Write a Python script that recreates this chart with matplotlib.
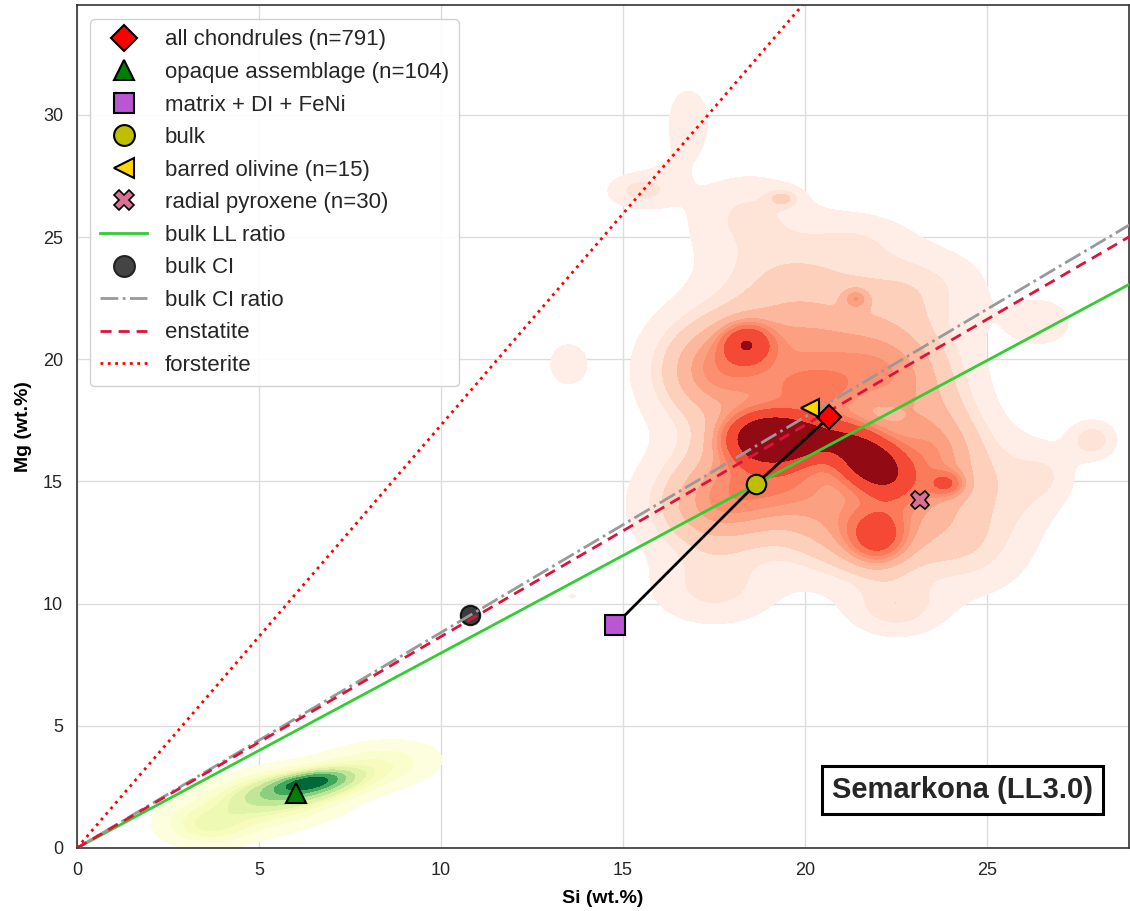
import numpy as np
import matplotlib
matplotlib.use("Agg")
import matplotlib.pyplot as plt
from matplotlib.lines import Line2D

plt.rcParams['font.family'] = ['Liberation Sans', 'DejaVu Sans']
plt.rcParams['text.color'] = '#262626'
plt.rcParams['xtick.color'] = '#262626'
plt.rcParams['ytick.color'] = '#262626'

# point estimates (Si, Mg in wt.%)
chondrules = (20.66, 17.63)
opaque = (6.02, 2.25)
matrix = (14.78, 9.12)
bulk = (18.65, 14.89)
barred_olivine = (20.14, 18.0)
radial_pyroxene = (23.16, 14.23)
bulk_ci = (10.80, 9.53)

# Mg/Si slopes of the reference lines
ll_ratio = 0.798
ci_ratio = 0.882
enstatite_ratio = 24.305 / 28.086
forsterite_ratio = 2 * 24.305 / 28.086

# density blobs for the chondrule cloud
red_cx = [19.0, 21.8, 20.4, 18.4, 22.0, 23.9, 21.4, 19.4,
          17.5, 20.0, 22.5, 23.5, 21.5, 17.5, 19.5, 19.5, 23.0, 24.5, 17.5, 22.5, 17.8, 26.5, 26.0,
          18.8, 21.5, 26.8, 16.2, 20.2,
          27.9, 16.8, 15.4, 13.5, 13.6, 17.6]
red_cy = [16.8, 15.8, 16.8, 20.65, 12.7, 14.9, 22.5, 26.6,
          19.5, 20.5, 19.5, 16.0, 13.0, 14.0, 15.5, 23.5, 23.0, 12.5, 10.5, 9.8, 25.8, 21.5, 15.0,
          26.3, 25.0, 15.3, 27.5, 18.6,
          16.7, 29.7, 26.9, 19.8, 10.3, 33.4]
red_sx = [0.8, 0.7, 0.8, 0.45, 0.55, 0.35, 0.25, 0.3,
          1.2, 1.5, 1.3, 1.1, 1.4, 1.3, 1.4, 1.5, 1.4, 1.2, 1.2, 0.9, 1.0, 0.8, 0.8,
          1.0, 1.0, 0.5, 0.5, 1.0,
          0.45, 0.45, 0.6, 0.4, 0.15, 0.2]
red_sy = [0.7, 0.9, 0.6, 0.55, 0.8, 0.35, 0.3, 0.25,
          1.6, 1.5, 1.6, 1.6, 1.4, 1.5, 1.4, 1.5, 1.2, 1.5, 1.0, 0.8, 1.2, 0.9, 1.3,
          1.0, 0.8, 0.8, 0.8, 0.8,
          0.55, 1.1, 0.5, 0.65, 0.12, 0.25]
red_rho = [0.0, -0.4, 0.0, 0.0, 0.0, 0.0, 0.0, 0.0,
           0.0, 0.0, 0.0, 0.0, 0.0, 0.0, 0.0, 0.0, 0.0, 0.0, 0.0, 0.0, 0.0, 0.0, 0.0,
           0.0, 0.0, 0.0, 0.0, 0.0,
           0.0, 0.0, 0.0, 0.0, 0.0, 0.0]
red_w = [0.065, 0.06, 0.025, 0.013, 0.02, 0.004, 0.002, 0.0015,
         0.11, 0.1, 0.1, 0.1, 0.1, 0.1, 0.11, 0.055, 0.037, 0.045, 0.026, 0.018, 0.012, 0.01, 0.018,
         0.012, 0.01, 0.004, 0.003, 0.03,
         0.007, 0.009, 0.007, 0.005, 0.0002, 0.0003]

# density blobs for the opaque assemblages
green_cx = [6.4, 6.2, 5.2, 8.3, 3.6]
green_cy = [2.7, 2.5, 1.9, 3.4, 0.9]
green_sx = [0.55, 1.0, 1.4, 1.0, 0.7]
green_sy = [0.25, 0.45, 0.8, 0.6, 0.5]
green_rho = [0.5, 0.5, 0.4, 0.2, 0.0]
green_w = [0.12, 0.3, 0.38, 0.12, 0.08]


def mixture(xx, yy, cx, cy, sx, sy, rho, w):
  z = np.zeros_like(xx)
  for i in range(len(cx)):
    dx = (xx - cx[i]) / sx[i]
    dy = (yy - cy[i]) / sy[i]
    r = rho[i]
    q = (dx**2 - 2*r*dx*dy + dy**2) / (1 - r**2)
    z += w[i] * np.exp(-0.5*q) / (2*np.pi*sx[i]*sy[i]*np.sqrt(1 - r**2))
  return z


def iso_levels(z, props):
  vals = np.sort(z.ravel())[::-1]
  cum = np.cumsum(vals) / vals.sum()
  idx = np.searchsorted(cum, 1 - np.asarray(props))
  return np.take(vals, idx, mode="clip")


fig = plt.figure(figsize=(11.3, 9.11), dpi=100)
ax = fig.add_axes([77/1130, 63/911, 1052/1130, 843/911])
ax.set_axisbelow(True)
ax.grid(True, color='#dddddd', lw=1)
for s in ax.spines.values():
  s.set_color('#333333')
  s.set_linewidth(1.2)

props = np.linspace(0.05, 1, 10)

gx, gy = np.meshgrid(np.linspace(10, 31, 420), np.linspace(4, 37, 600))
zr = mixture(gx, gy, red_cx, red_cy, red_sx, red_sy, red_rho, red_w)
lv = np.unique(iso_levels(zr, props))
ax.contourf(gx, gy, zr, levels=lv, cmap='Reds', vmin=lv[0], vmax=lv[-1] - 0.3*(lv[-1] - lv[-2]),
            zorder=1)

hx, hy = np.meshgrid(np.linspace(0, 13, 300), np.linspace(-1, 7, 200))
zg = mixture(hx, hy, green_cx, green_cy, green_sx, green_sy, green_rho, green_w)
ax.contourf(hx, hy, zg, levels=np.unique(iso_levels(zg, props)), cmap='YlGn', zorder=1)

xs = np.array([0, 30])
ax.plot(xs, ll_ratio*xs, color='#32cd32', lw=2, zorder=4)
ax.plot(xs, ci_ratio*xs, color='#999999', lw=2, ls='-.', zorder=4)
ax.plot(xs, enstatite_ratio*xs, color='#dc143c', lw=2, ls=(0, (4, 2.5)), zorder=4)
ax.plot(xs, forsterite_ratio*xs, color='red', lw=2, ls=':', zorder=4)

# mixing line matrix -> bulk -> chondrules
ax.plot([matrix[0], bulk[0], chondrules[0]], [matrix[1], bulk[1], chondrules[1]],
        color='k', lw=2, zorder=5)

ax.plot(*bulk_ci, 'o', ms=14, mfc='#1a1a1a', mec='k', mew=1.5, alpha=0.85, zorder=3)
ax.plot(*chondrules, 'D', ms=12, mfc='red', mec='k', mew=1.5, zorder=6)
ax.plot(*opaque, '^', ms=14, mfc='green', mec='k', mew=1.5, zorder=6)
ax.plot(*matrix, 's', ms=14, mfc='#ba55d3', mec='k', mew=1.5, zorder=6)
ax.plot(*bulk, 'o', ms=14, mfc='#bfbf00', mec='k', mew=1.5, zorder=6)
ax.plot(*barred_olivine, '<', ms=13, mfc='gold', mec='k', mew=1.5, zorder=6)
ax.plot(*radial_pyroxene, 'X', ms=13, mfc='palevioletred', mec='k', mew=1.2, zorder=6)

handles = [
  Line2D([], [], ls='', marker='D', ms=13, mfc='red', mec='k', mew=1.5),
  Line2D([], [], ls='', marker='^', ms=14, mfc='green', mec='k', mew=1.5),
  Line2D([], [], ls='', marker='s', ms=14, mfc='#ba55d3', mec='k', mew=1.5),
  Line2D([], [], ls='', marker='o', ms=15, mfc='#bfbf00', mec='k', mew=1.5),
  Line2D([], [], ls='', marker='<', ms=14, mfc='gold', mec='k', mew=1.5),
  Line2D([], [], ls='', marker='X', ms=14, mfc='palevioletred', mec='k', mew=1.2),
  Line2D([], [], color='#32cd32', lw=2),
  Line2D([], [], ls='', marker='o', ms=15, mfc='#444444', mec='#222222', mew=1.5),
  Line2D([], [], color='#999999', lw=2, ls='-.'),
  Line2D([], [], color='#dc143c', lw=2, ls=(0, (4, 2.5))),
  Line2D([], [], color='red', lw=2, ls=':'),
]
labels = ['all chondrules (n=791)', 'opaque assemblage (n=104)', 'matrix + DI + FeNi',
          'bulk', 'barred olivine (n=15)', 'radial pyroxene (n=30)', 'bulk LL ratio',
          'bulk CI', 'bulk CI ratio', 'enstatite', 'forsterite']
leg = ax.legend(handles, labels, loc='upper left', fontsize=16, labelspacing=0.52,
                handlelength=2.1, handletextpad=0.8, borderpad=0.45,
                bbox_to_anchor=(0.002, 0.996), framealpha=0.9, edgecolor='#cccccc')

ax.text(0.842, 0.069, 'Semarkona (LL3.0)', transform=ax.transAxes, fontsize=21,
        fontweight='bold', ha='center', va='center', zorder=10,
        bbox=dict(boxstyle='square,pad=0.35', fc='white', ec='k', lw=2.2))

ax.set_xlim(0, 28.9)
ax.set_ylim(0, 34.5)
ax.set_xticks([0, 5, 10, 15, 20, 25])
ax.set_yticks([0, 5, 10, 15, 20, 25, 30])
ax.tick_params(labelsize=13, length=0, pad=10)
ax.set_xlabel('Si (wt.%)', fontsize=14, fontweight='bold', labelpad=8)
ax.set_ylabel('Mg (wt.%)', fontsize=14, fontweight='bold', labelpad=8)

fig.savefig('out.png', dpi=100)
